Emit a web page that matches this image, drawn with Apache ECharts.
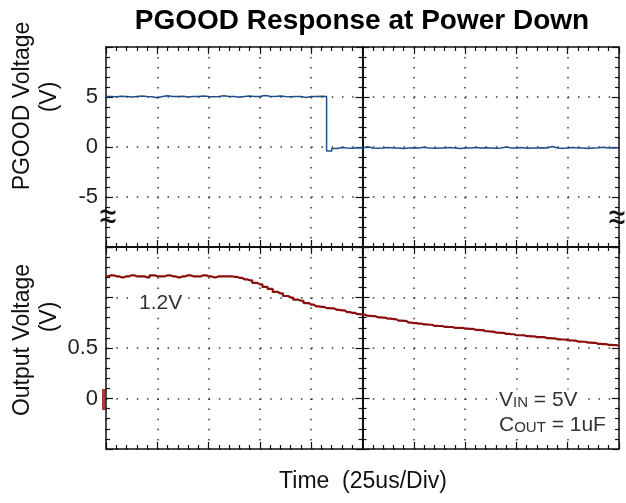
<!DOCTYPE html>
<html>
<head>
<meta charset="utf-8">
<title>PGOOD Response at Power Down</title>
<script src="https://cdn.jsdelivr.net/npm/echarts@6/dist/echarts.min.js"></script>
<style>
  html, body { margin: 0; padding: 0; background: #fff; }
  #chart { width: 626px; height: 503px; }
</style>
</head>
<body>
<div id="chart"></div>
<script>
// time base: 10 div x 25us
const timeMin = 0
const timeMax = 250
const timeDiv = 25
const sampleStep = 2.5 // us between scope samples

// CH1 PGOOD (V), 5V/div
const pgoodVolts = [
  5.05, 5.02, 5.08, 5.05, 5.0, 5.05, 5.1, 5.05, 5.03, 4.92,
  5.05, 5.12, 5.05, 5.05, 5.08, 5.0, 5.05, 5.05, 5.1, 5.05,
  5.02, 5.05, 5.12, 5.05, 5.05, 4.98, 5.05, 5.1, 5.05, 5.05,
  5.15, 5.08, 5.05, 5.1, 5.05, 5.02, 5.05, 5.05, 4.95, 5.05,
  5.05, 5.08, 5.05,
  -0.40, -0.15, -0.05, -0.10, -0.12, -0.08, -0.10, 0.02, -0.10, -0.12,
  -0.10, -0.06, -0.10, -0.10, -0.14, -0.10, -0.08, -0.10, -0.02, -0.10,
  -0.12, -0.10, -0.10, -0.06, -0.10, -0.14, -0.10, -0.10, -0.04, -0.10,
  -0.08, -0.10, -0.12, -0.10, 0.0, -0.10, -0.10, -0.06, -0.12, -0.10,
  -0.10, -0.08, -0.10, 0.05, -0.10, -0.12, -0.10, -0.06, -0.10, -0.10,
  -0.14, -0.10, -0.08, -0.02, -0.10, -0.10, -0.08, -0.10
]

// CH2 output voltage (V), 0.5V/div
const voutVolts = [
  1.21, 1.22, 1.21, 1.20, 1.21, 1.22, 1.21, 1.21, 1.20, 1.22,
  1.21, 1.21, 1.22, 1.21, 1.20, 1.21, 1.22, 1.21, 1.21, 1.22,
  1.21, 1.20, 1.21, 1.21, 1.21,
  1.205, 1.195, 1.18, 1.17, 1.145, 1.13, 1.105, 1.085, 1.055, 1.04,
  1.015, 1.0, 0.978, 0.968, 0.945, 0.93, 0.912, 0.908, 0.895, 0.892,
  0.878, 0.872, 0.856, 0.848, 0.835, 0.83,
  0.818, 0.815, 0.804, 0.80, 0.79, 0.786, 0.772, 0.768, 0.752, 0.746,
  0.742, 0.733, 0.73, 0.72, 0.718, 0.71, 0.708, 0.70, 0.70, 0.692,
  0.69, 0.68, 0.677, 0.666, 0.662, 0.653, 0.65, 0.64, 0.636, 0.626,
  0.626, 0.618, 0.616, 0.608, 0.607, 0.598, 0.596, 0.586, 0.584, 0.576,
  0.574, 0.564, 0.562, 0.553, 0.55, 0.541, 0.539, 0.53, 0.529, 0.52
]

const pgoodRange = [-10, 10, 5]
const voutRange = [-0.5, 1.5, 0.5]
const pgoodLabels = [5, 0, -5]
const voutLabels = [0.5, 0]
const ch2Ground = [[0, 0]]

const FONT = '"Liberation Sans", Arial, sans-serif'
const INK = '#111'
const TRACE1 = '#1f4f8a'
const TRACE2 = '#8a0f0f'

const toPoints = (vals) => vals.map((v, i) => [i * sampleStep, v])

const tickStyle = { color: INK, width: 1.2 }

// one x axis on an edge / centre line of a grid
function timeAxis(gridIndex, position, inside, split, lineWidth) {
  return {
    type: 'value', gridIndex, position,
    min: timeMin, max: timeMax, interval: timeDiv,
    axisLine: { show: true, onZero: false, lineStyle: { color: INK, width: lineWidth } },
    axisTick: { show: true, inside, length: 7, lineStyle: tickStyle },
    minorTick: { show: true, splitNumber: 5, length: 4, lineStyle: tickStyle },
    axisLabel: { show: false },
    splitLine: split
      ? { show: true, lineStyle: { color: '#333', width: 1.5, type: split } }
      : { show: false }
  }
}

// one y axis, offset moves it in to the centre line
function voltAxis(gridIndex, range, position, inside, offset, labels, lineWidth) {
  return {
    type: 'value', gridIndex, position, offset,
    min: range[0], max: range[1], interval: range[2],
    axisLine: { show: true, onZero: false, lineStyle: { color: INK, width: lineWidth } },
    axisTick: { show: true, inside, length: 7, lineStyle: tickStyle },
    minorTick: { show: true, splitNumber: 5, length: 4, lineStyle: tickStyle },
    axisLabel: labels
      ? {
          show: true, margin: 8, fontSize: 22, color: '#222', fontFamily: FONT,
          formatter: (v) => labels.some((l) => Math.abs(l - v) < 1e-6) ? String(+v.toFixed(2)) : ''
        }
      : { show: false },
    splitLine: labels
      ? { show: true, lineStyle: { color: '#333', width: 1.5, type: [1.5, 8.76] } }
      : { show: false }
  }
}

const centre = -256.5

const chart = echarts.init(document.getElementById('chart'), null, { renderer: 'canvas' })

const noteRich = {
  b: { fontSize: 21, fontFamily: FONT, fill: '#333' },
  s: { fontSize: 15, fontFamily: FONT, fill: '#333', padding: [5, 0, 0, 0] }
}

chart.setOption({
  animation: false,
  backgroundColor: '#fff',
  grid: [
    { left: 106, top: 47, width: 513, height: 200, outerBoundsMode: 'none' },
    { left: 106, top: 247, width: 513, height: 202, outerBoundsMode: 'none' }
  ],
  xAxis: [
    timeAxis(0, 'bottom', true, [1.5, 8.5], 2),
    timeAxis(0, 'top', true, null, 1.5),
    timeAxis(1, 'top', true, [1.5, 8.6], 2),
    timeAxis(1, 'bottom', true, null, 1.5)
  ],
  yAxis: [
    voltAxis(0, pgoodRange, 'left', true, 0, pgoodLabels, 1.5),
    voltAxis(0, pgoodRange, 'right', true, 0, null, 1.5),
    voltAxis(0, pgoodRange, 'left', true, centre, null, 2),
    voltAxis(0, pgoodRange, 'left', false, centre, null, 2),
    voltAxis(1, voutRange, 'left', true, 0, voutLabels, 1.5),
    voltAxis(1, voutRange, 'right', true, 0, null, 1.5),
    voltAxis(1, voutRange, 'left', true, centre, null, 2),
    voltAxis(1, voutRange, 'left', false, centre, null, 2)
  ],
  series: [
    {
      name: 'PGOOD', type: 'line', xAxisIndex: 0, yAxisIndex: 0,
      data: toPoints(pgoodVolts), step: 'end', showSymbol: false,
      lineStyle: { color: TRACE1, width: 1.5 }, z: 5
    },
    {
      name: 'VOUT', type: 'line', xAxisIndex: 2, yAxisIndex: 4,
      data: toPoints(voutVolts), step: 'middle', showSymbol: false,
      lineStyle: { color: TRACE2, width: 2.2 }, z: 5
    },
    {
      // scope channel ground marker
      name: 'CH2 gnd', type: 'scatter', xAxisIndex: 2, yAxisIndex: 4,
      data: ch2Ground, symbol: 'rect', symbolSize: [4, 21], symbolOffset: [-2, 1],
      clip: false, itemStyle: { color: TRACE2 }, z: 6
    }
  ],
  graphic: [
    { type: 'text', x: 362, y: 21, style: { text: 'PGOOD Response at Power Down', fontSize: 28, fontWeight: 'bold', fontFamily: FONT, fill: '#000', align: 'center', verticalAlign: 'middle' } },
    { type: 'text', x: 23, y: 106, rotation: Math.PI / 2, style: { text: 'PGOOD Voltage', fontSize: 23, fontFamily: FONT, fill: '#111', align: 'center', verticalAlign: 'middle' } },
    { type: 'text', x: 50, y: 97, rotation: Math.PI / 2, style: { text: '(V)', fontSize: 23, fontFamily: FONT, fill: '#111', align: 'center', verticalAlign: 'middle' } },
    { type: 'text', x: 23, y: 340, rotation: Math.PI / 2, style: { text: 'Output Voltage', fontSize: 23, fontFamily: FONT, fill: '#111', align: 'center', verticalAlign: 'middle' } },
    { type: 'text', x: 50, y: 317, rotation: Math.PI / 2, style: { text: '(V)', fontSize: 23, fontFamily: FONT, fill: '#111', align: 'center', verticalAlign: 'middle' } },
    { type: 'text', x: 363, y: 482, style: { text: 'Time  (25us/Div)', fontSize: 23, fontFamily: FONT, fill: '#111', align: 'center', verticalAlign: 'middle' } },
    { type: 'text', x: 108, y: 218, scaleY: 1.4, z: 10, style: { text: '≈', fontSize: 30, fontFamily: FONT, fill: '#111', align: 'center', verticalAlign: 'middle' } },
    { type: 'text', x: 617, y: 219, scaleY: 1.4, z: 10, style: { text: '≈', fontSize: 30, fontFamily: FONT, fill: '#111', align: 'center', verticalAlign: 'middle' } },
    { type: 'text', x: 137, y: 303, z: 10, style: { text: '1.2V', fontSize: 21, fontFamily: FONT, fill: '#333', align: 'left', verticalAlign: 'middle', backgroundColor: '#fff', padding: [0, 2] } },
    {
      type: 'text', x: 497, y: 400, z: 10,
      style: { text: '{b|V}{s|IN}{b| = 5V}', fontFamily: FONT, fill: '#333', align: 'left', verticalAlign: 'middle', backgroundColor: '#fff', padding: [0, 2], rich: noteRich }
    },
    {
      type: 'text', x: 497, y: 425, z: 10,
      style: { text: '{b|C}{s|OUT}{b| = 1uF}', fontFamily: FONT, fill: '#333', align: 'left', verticalAlign: 'middle', backgroundColor: '#fff', padding: [0, 2], rich: noteRich }
    }
  ]
})
</script>
</body>
</html>
